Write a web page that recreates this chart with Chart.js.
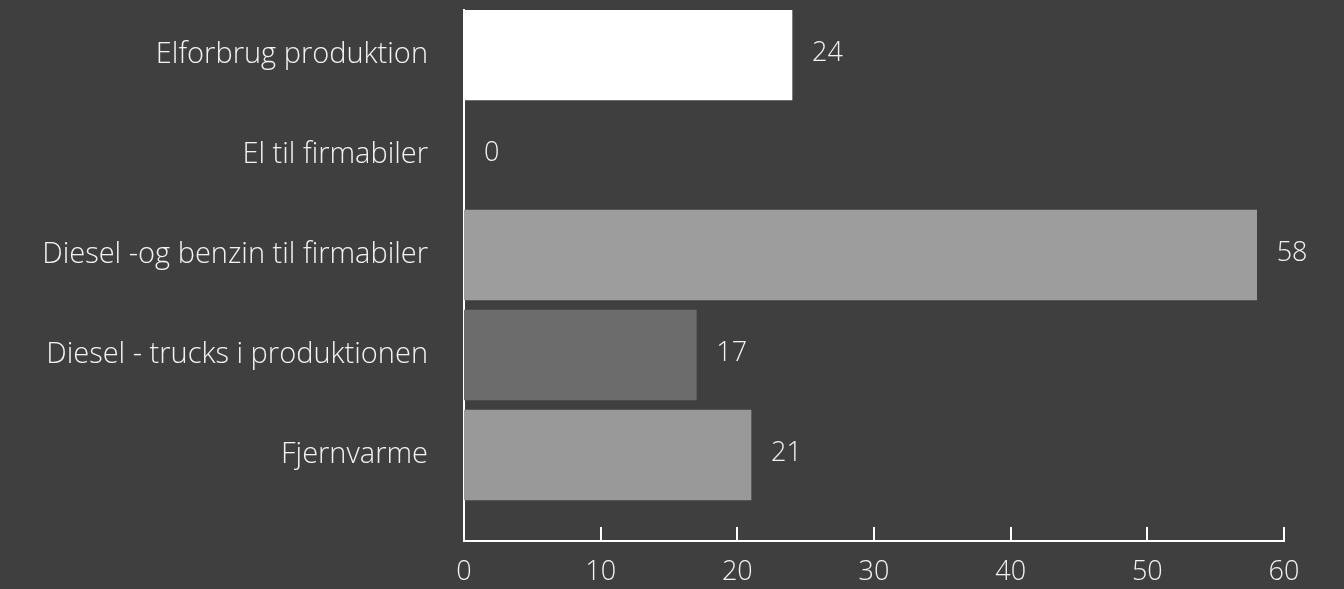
<!DOCTYPE html>
<html>
<head>
<meta charset="utf-8">
<script src="https://cdn.jsdelivr.net/npm/chart.js@4/dist/chart.umd.min.js"></script>
<style>
    html, body { margin: 0; padding: 0; background: #3f3f3f; }
    #wrap { width: 1344px; height: 589px; }
</style>
</head>
<body>
<div id="wrap"><canvas id="barChart"></canvas></div>
<script>
// Energiforbrug pr. kilde
const categories = [
    'Elforbrug produktion',
    'El til firmabiler',
    'Diesel -og benzin til firmabiler',
    'Diesel - trucks i produktionen',
    'Fjernvarme'
];
const values = [24, 0, 58, 17, 21];
const barColors = ['#ffffff', '#ffffff', '#9d9d9d', '#6c6c6c', '#999999'];
const xTicks = [0, 10, 20, 30, 40, 50, 60];

const textColor = '#f2f2f2';
const fontFamily = '"Open Sans", Lato, sans-serif';

Chart.defaults.font.family = fontFamily;
Chart.defaults.color = textColor;

// Value labels to the right of each bar
const valueLabels = {
    id: 'valueLabels',
    afterDatasetsDraw(chart) {
        const ctx = chart.ctx;
        const meta = chart.getDatasetMeta(0);
        ctx.save();
        ctx.fillStyle = textColor;
        ctx.font = '300 27px ' + fontFamily;
        ctx.textAlign = 'left';
        ctx.textBaseline = 'middle';
        meta.data.forEach((bar, i) => {
            ctx.fillText(String(values[i]), bar.x + 20, bar.y - 2);
        });
        ctx.restore();
    }
};

// Short tick marks pointing up from the x axis
const innerTicks = {
    id: 'innerTicks',
    afterDraw(chart) {
        const ctx = chart.ctx;
        const x = chart.scales.x;
        const bottom = chart.chartArea.bottom;
        ctx.save();
        ctx.strokeStyle = '#ffffff';
        ctx.lineWidth = 2;
        xTicks.slice(1).forEach(v => {
            const px = Math.round(x.getPixelForValue(v));
            ctx.beginPath();
            ctx.moveTo(px, bottom);
            ctx.lineTo(px, bottom - 14);
            ctx.stroke();
        });
        ctx.restore();
    }
};

const ctx = document.getElementById('barChart');

new Chart(ctx, {
    type: 'bar',
    data: {
        datasets: [{
            data: values.map((v, i) => ({ x: v, y: i })),
            backgroundColor: barColors,
            borderWidth: 0,
            barThickness: 90
        }]
    },
    plugins: [valueLabels, innerTicks],
    options: {
        indexAxis: 'y',
        responsive: true,
        maintainAspectRatio: false,
        animation: false,
        layout: {
            padding: { top: 10, right: 60, bottom: 0, left: 0 }
        },
        plugins: {
            legend: { display: false },
            tooltip: { enabled: false }
        },
        scales: {
            x: {
                type: 'linear',
                min: 0,
                max: 60,
                afterBuildTicks: (scale) => {
                    scale.ticks = xTicks.map(v => ({ value: v }));
                },
                afterFit: (scale) => { scale.height = 48; },
                grid: { display: false, drawTicks: false },
                border: { display: true, color: '#ffffff', width: 2 },
                ticks: {
                    color: textColor,
                    font: { size: 27, weight: '300' },
                    padding: 15,
                    maxRotation: 0
                }
            },
            y: {
                type: 'linear',
                reverse: true,
                offset: false,
                bounds: 'data',
                min: -0.45,
                max: 4.86,
                afterBuildTicks: (scale) => {
                    scale.ticks = categories.map((_, i) => ({ value: i }));
                },
                afterFit: (scale) => {
                    scale.width = 464;
                    scale.paddingTop = 0;
                    scale.paddingBottom = 0;
                },
                grid: { display: false, drawTicks: false, offset: false },
                border: { display: true, color: '#ffffff', width: 2 },
                ticks: {
                    color: textColor,
                    font: { size: 29, weight: '300' },
                    padding: 36,
                    callback: (v) => categories[v] ?? ''
                }
            }
        }
    }
});
</script>
</body>
</html>
